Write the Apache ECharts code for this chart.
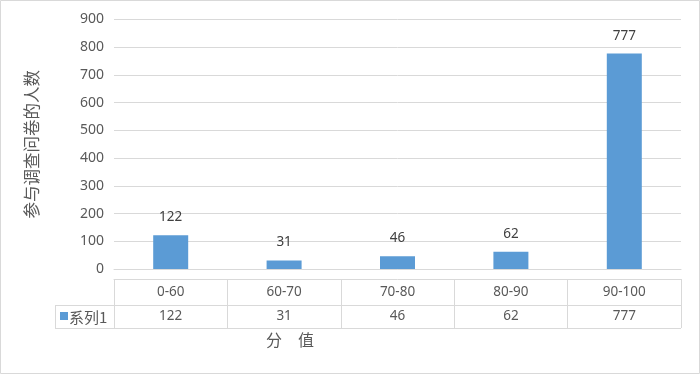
<!DOCTYPE html>
<html><head><meta charset="utf-8">
<script src="https://cdn.jsdelivr.net/npm/echarts@6/dist/echarts.min.js"></script>
<style>html,body{margin:0;padding:0;background:#fff}#c{width:700px;height:374px}</style>
</head><body><div id="c"></div>
<script>
var categories = ['0-60', '60-70', '70-80', '80-90', '90-100'];
var values = [122, 31, 46, 62, 777];
var seriesName = '系列1';
var yAxisName = '参与调查问卷的人数';
var xAxisName = '分　值';

var FONT = '"Noto Sans", "Noto Sans CJK SC", sans-serif';
var chart = echarts.init(document.getElementById('c'));
var L = 114, R = 681, T = 19.5, B = 269;
var grey = '#d9d9d9', txt = '#595959';
chart.setOption({
  animation: false,
  textStyle: {fontFamily: FONT},
  grid: {left: L, right: 700 - R, top: T, bottom: 374 - B},
  xAxis: [{
    type: 'category', data: categories,
    axisLine: {show: true, lineStyle: {color: grey}},
    axisTick: {show: false}, axisLabel: {show: false}
  }, {
    type: 'category', data: categories, position: 'bottom', offset: 10,
    axisLine: {show: true, lineStyle: {color: grey}},
    axisTick: {show: true, alignWithLabel: false, length: 49, lineStyle: {color: grey}},
    axisLabel: {
      margin: 1,
      formatter: function (v, i) { return '{a|' + v + '}\n{a|' + values[i] + '}'; },
      rich: {a: {fontSize: 13.5, color: txt, lineHeight: 24, fontFamily: FONT}}
    }
  }],
  yAxis: {
    type: 'value', min: 0, max: 900, interval: 100,
    name: yAxisName, nameLocation: 'middle', nameRotate: 90, nameGap: 74,
    nameTextStyle: {fontSize: 16.5, color: txt, fontFamily: '"Noto Sans CJK SC", sans-serif'},
    axisLine: {show: false}, axisTick: {show: false},
    axisLabel: {fontSize: 14, color: txt, margin: 10},
    splitLine: {lineStyle: {color: grey}}
  },
  series: [{
    type: 'bar', name: seriesName, data: values, barWidth: 35, xAxisIndex: 0,
    itemStyle: {color: '#5B9BD5'},
    label: {show: true, position: 'top', distance: 11, fontSize: 13.5, color: '#404040'}
  }],
  graphic: [
    {type: 'rect', shape: {x: 0.5, y: 0.5, width: 699, height: 373}, style: {fill: 'none', stroke: grey}},
    {type: 'line', shape: {x1: 55, y1: 305.5, x2: R, y2: 305.5}, style: {stroke: grey}},
    {type: 'line', shape: {x1: 55, y1: 328.5, x2: R, y2: 328.5}, style: {stroke: grey}},
    {type: 'line', shape: {x1: 55.5, y1: 305, x2: 55.5, y2: 329}, style: {stroke: grey}},
    {type: 'rect', shape: {x: 60, y: 312, width: 8, height: 8}, style: {fill: '#5B9BD5'}},
    {type: 'text', x: 69, y: 317, style: {text: seriesName, font: '15px "Noto Sans CJK SC", sans-serif', fill: txt, textVerticalAlign: 'middle'}},
    {type: 'text', x: 290, y: 340, style: {text: xAxisName, font: '16px "Noto Sans CJK SC", sans-serif', fill: txt, textAlign: 'center', textVerticalAlign: 'middle'}}
  ]
});
</script></body></html>
